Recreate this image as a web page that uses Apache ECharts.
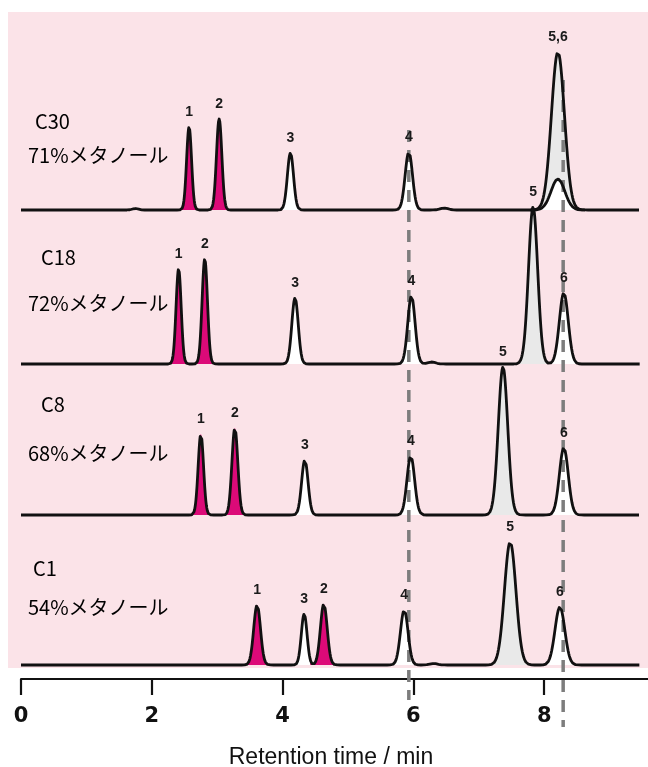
<!DOCTYPE html>
<html><head><meta charset="utf-8">
<script src="https://cdn.jsdelivr.net/npm/echarts@6/dist/echarts.min.js"></script>
<style>html,body{margin:0;padding:0;background:#fff}#c{width:648px;height:767px}</style>
</head><body><div id="c"></div>
<script>
// ---------------- DATA ----------------
const columnNames = ['C30', 'C18', 'C8', 'C1'];
const eluents = ['71%メタノール', '72%メタノール', '68%メタノール', '54%メタノール'];
const tickValues = [0, 2, 4, 6, 8];
const axisTitle = 'Retention time / min';
const refTimes = [5.93, 8.29];            // dashed reference lines (min)

// retention time (min), height (a.u.), sigma (min), label, fill
const c30Times   = [1.75, 2.57, 3.03, 4.12, 5.93, 6.47, 8.21];
const c30Heights = [1.5, 83, 91, 57, 58, 2, 127];
const c30Sigmas  = [0.045, 0.038, 0.041, 0.047, 0.056, 0.06, 0.098];
const c30Labels  = ['', '1', '2', '3', '4', '', '5,6'];
const c30Fills   = ['none', 'magenta', 'magenta', 'white', 'white', 'none', 'gray'];
const c30InnerTime = 8.21, c30InnerHeight = 31, c30InnerSigma = 0.105;

const c18Times   = [2.41, 2.81, 4.19, 5.97, 6.28, 7.83, 8.30];
const c18Heights = [95, 105, 66, 68, 2, 157, 71];
const c18Sigmas  = [0.039, 0.041, 0.049, 0.056, 0.06, 0.070, 0.068];
const c18Labels  = ['1', '2', '3', '4', '', '5', '6'];
const c18Fills   = ['magenta', 'magenta', 'white', 'white', 'none', 'gray', 'white'];

const c8Times   = [2.75, 3.27, 4.34, 5.96, 7.37, 8.30];
const c8Heights = [81, 87, 55, 59, 148, 67];
const c8Sigmas  = [0.041, 0.045, 0.049, 0.058, 0.072, 0.068];
const c8Labels  = ['1', '2', '3', '4', '5', '6'];
const c8Fills   = ['magenta', 'magenta', 'white', 'white', 'gray', 'white'];

const c1Times   = [3.61, 4.33, 4.63, 5.86, 6.31, 7.48, 8.24];
const c1Heights = [60, 51, 61, 55, 1.5, 123, 58];
const c1Sigmas  = [0.052, 0.044, 0.052, 0.058, 0.06, 0.088, 0.075];
const c1Labels  = ['1', '3', '2', '4', '', '5', '6'];
const c1Fills   = ['magenta', 'white', 'magenta', 'white', 'none', 'gray', 'white'];

// ---------------- LAYOUT ----------------
const baselines = [469, 315, 164, 14];   // vertical offset of each trace
const traceEnd = 9.46;
const colors = { magenta: '#dc0a78', white: '#ffffff', gray: '#e9e9e9' };

const cols = [
  {t: c30Times, h: c30Heights, s: c30Sigmas, lab: c30Labels, fill: c30Fills,
   inner: {t: c30InnerTime, h: c30InnerHeight, s: c30InnerSigma}},
  {t: c18Times, h: c18Heights, s: c18Sigmas, lab: c18Labels, fill: c18Fills},
  {t: c8Times, h: c8Heights, s: c8Sigmas, lab: c8Labels, fill: c8Fills},
  {t: c1Times, h: c1Heights, s: c1Sigmas, lab: c1Labels, fill: c1Fills}
];

function gauss(t, t0, h, s) { const z = (t - t0) / s; return h * Math.exp(-0.5 * z * z); }
function total(ci, t) {
  const C = cols[ci]; let v = 0;
  for (let k = 0; k < C.t.length; k++) v += gauss(t, C.t[k], C.h[k], C.s[k]);
  if (C.inner) v += gauss(t, C.inner.t, C.inner.h, C.inner.s);
  return v;
}

const series = [];
// fills
const fillData = [];
cols.forEach((C, ci) => {
  C.t.forEach((_, k) => { if (C.fill[k] !== 'none') fillData.push([ci, k]); });
  if (C.inner) fillData.push([ci, -1]);
});
series.push({
  type: 'custom', z: 1, silent: true, data: fillData,
  renderItem: function (params, api) {
    const ci = api.value(0), k = api.value(1);
    const C = cols[ci], base = baselines[ci];
    let t0, s, color, fn;
    if (k < 0) {
      t0 = C.inner.t; s = C.inner.s; color = colors.white;
      fn = t => gauss(t, C.inner.t, C.inner.h, C.inner.s);
    } else {
      t0 = C.t[k]; s = C.s[k]; color = colors[C.fill[k]];
      fn = t => total(ci, t);
    }
    const pts = [];
    const n = 80;
    for (let i = 0; i <= n; i++) {
      const t = t0 - 4 * s + 8 * s * i / n;
      pts.push(api.coord([t, base + fn(t)]));
    }
    pts.push(api.coord([t0 + 4 * s, base]));
    pts.push(api.coord([t0 - 4 * s, base]));
    return {type: 'polygon', shape: {points: pts}, style: {fill: color, stroke: null}};
  }
});
// dashed reference lines
const dashTops = [549, 599], dashBottoms = [-21, -48];
refTimes.forEach((rt, i) => {
  series.push({
    type: 'line', z: 2, silent: true, clip: false, showSymbol: false, symbol: 'none',
    data: [[rt, dashTops[i]], [rt, dashBottoms[i]]],
    lineStyle: {color: '#7d7d7d', width: 3.5, type: [12, 8]}
  });
});
// traces
cols.forEach((C, ci) => {
  const d = [];
  for (let t = 0; t <= traceEnd + 1e-9; t += 0.005) d.push([t, baselines[ci] + total(ci, t)]);
  series.push({
    type: 'line', z: 3, silent: true, showSymbol: false, symbol: 'none', sampling: null,
    data: d, lineStyle: {color: '#111', width: 2.8, join: 'round'}
  });
  if (C.inner) {
    const di = [];
    for (let t = C.inner.t - 4 * C.inner.s; t <= C.inner.t + 4 * C.inner.s; t += 0.005)
      di.push([t, baselines[ci] + gauss(t, C.inner.t, C.inner.h, C.inner.s)]);
    series.push({
      type: 'line', z: 3, silent: true, showSymbol: false, symbol: 'none',
      data: di, lineStyle: {color: '#111', width: 2.8}
    });
  }
});
// peak labels
const labData = [];
cols.forEach((C, ci) => C.t.forEach((_, k) => { if (C.lab[k]) labData.push([ci, k]); }));
series.push({
  type: 'custom', z: 4, silent: true, data: labData,
  renderItem: function (params, api) {
    const ci = api.value(0), k = api.value(1);
    const C = cols[ci];
    const p = api.coord([C.t[k], baselines[ci] + total(ci, C.t[k])]);
    return {type: 'text', style: {text: C.lab[k], x: p[0], y: p[1] - 15,
      align: 'center', verticalAlign: 'middle', fill: '#1a1a1a',
      font: 'bold 14px "Liberation Sans", Arial, sans-serif'}};
  }
});

const nameX = [35, 41, 41, 33], nameY = [121, 257, 404, 568], eluY = [155, 303, 453, 607];
const graphics = [{type: 'rect', z: -10, silent: true, shape: {x: 8, y: 12, width: 640, height: 656},
  style: {fill: '#fbe3e8'}}];
columnNames.forEach((nm, i) => {
  graphics.push({type: 'text', z: 100, x: nameX[i], y: nameY[i],
    style: {text: nm, font: '20px "Noto Sans CJK JP", sans-serif', fill: '#000', verticalAlign: 'middle'}});
  graphics.push({type: 'text', z: 100, x: 28, y: eluY[i],
    style: {text: eluents[i], font: '20px "Noto Sans CJK JP", sans-serif', fill: '#000', verticalAlign: 'middle'}});
});
graphics.push({type: 'text', z: 100, x: 331, y: 758,
  style: {text: axisTitle, font: '23px "Liberation Sans", Arial, sans-serif', fill: '#111',
    align: 'center', verticalAlign: 'middle'}});

const chart = echarts.init(document.getElementById('c'), null, {renderer: 'canvas'});
chart.setOption({
  animation: false,
  backgroundColor: '#ffffff',
  grid: {left: 21, right: 0, top: 12, bottom: 88, containLabel: false},
  xAxis: {
    type: 'value', min: 0, max: 627 / 65.4, interval: 2,
    splitLine: {show: false},
    axisLine: {onZero: false, lineStyle: {color: '#111', width: 2}},
    axisTick: {length: 16, lineStyle: {color: '#111', width: 2.2}, customValues: tickValues},
    axisLabel: {customValues: tickValues, margin: 27, color: '#111',
      fontFamily: '"DejaVu Sans", sans-serif', fontWeight: 'bold', fontSize: 21}
  },
  yAxis: {type: 'value', min: 0, max: 667, show: false},
  graphic: graphics,
  series: series
});
</script></body></html>
